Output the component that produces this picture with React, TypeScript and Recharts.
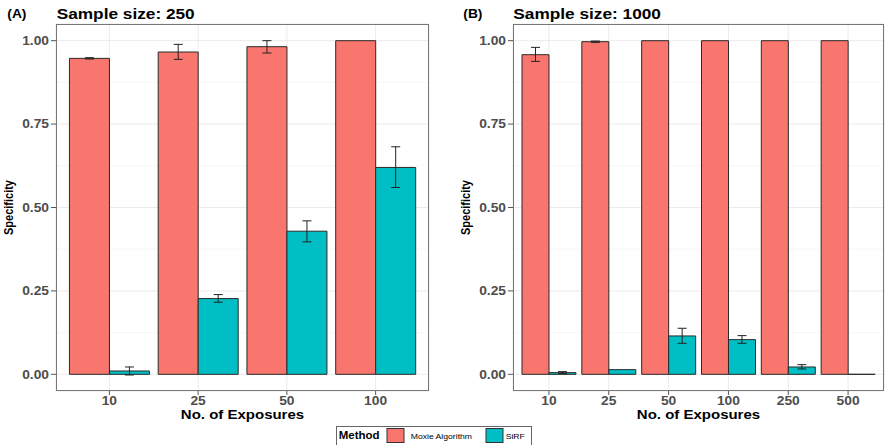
import React from 'react';
import { BarChart, Bar, XAxis, YAxis, CartesianGrid, ErrorBar } from 'recharts';

// ---------- data ----------
const categoriesA = ['10', '25', '50', '100'];
const moxieA = [0.947, 0.966, 0.982, 1.0];
const moxieALow = [0.945, 0.944, 0.963, 1.0];
const moxieAHigh = [0.949, 0.989, 1.0, 1.0];
const sirfA = [0.01, 0.227, 0.429, 0.62];
const sirfALow = [-0.002, 0.216, 0.397, 0.56];
const sirfAHigh = [0.022, 0.239, 0.46, 0.682];

const categoriesB = ['10', '25', '50', '100', '250', '500'];
const moxieB = [0.958, 0.997, 1.0, 1.0, 1.0, 1.0];
const moxieBLow = [0.938, 0.995, 1.0, 1.0, 1.0, 1.0];
const moxieBHigh = [0.98, 0.999, 1.0, 1.0, 1.0, 1.0];
const sirfB = [0.005, 0.014, 0.115, 0.104, 0.022, 0.0];
const sirfBLow = [0.002, 0.014, 0.093, 0.093, 0.016, 0.0];
const sirfBHigh = [0.008, 0.014, 0.138, 0.116, 0.029, 0.0];

const yTicks = [0, 0.25, 0.5, 0.75, 1];
const yMinor = [0.125, 0.375, 0.625, 0.875];

const err = (v: number, lo: number, hi: number) => (lo === hi ? null : [v - lo, hi - v]);

const build = (cats: string[], m: number[], mlo: number[], mhi: number[], s: number[], slo: number[], shi: number[]) =>
  cats.map((c, i) => ({
    cat: c,
    moxie: m[i],
    moxieErr: err(m[i], mlo[i], mhi[i]),
    sirf: s[i],
    sirfErr: err(s[i], slo[i], shi[i]),
  }));

const dataA = build(categoriesA, moxieA, moxieALow, moxieAHigh, sirfA, sirfALow, sirfAHigh);
const dataB = build(categoriesB, moxieB, moxieBLow, moxieBHigh, sirfB, sirfBLow, sirfBHigh);

// ---------- styles ----------
const RED = '#F8766D';
const TEAL = '#00BFC4';
const FONT = '"Liberation Sans", Arial, Helvetica, sans-serif';
const SX = 1.15;
const OUTLINE = '#2a2a2a';

const BarShape = (props: any) => {
  const { x, y, width, height, fill } = props;
  if (x == null || y == null || width == null || height == null) return null;
  return (
    <path
      d={`M${x},${y}h${width}v${height}h${-width}Z`}
      fill={fill}
      stroke={OUTLINE}
      strokeWidth={1}
    />
  );
};

const YTick = (props: any) => {
  const { x, y, payload } = props;
  return (
    <text
      transform={`translate(${x},${y + 4.3}) scale(${SX},1)`}
      textAnchor="end"
      fontFamily={FONT}
      fontWeight="bold"
      fontSize={12}
      fill="#4d4d4d"
    >
      {Number(payload.value).toFixed(2)}
    </text>
  );
};

const XTick = (props: any) => {
  const { x, y, payload } = props;
  return (
    <text
      transform={`translate(${x},${y + 8.5}) scale(${SX},1)`}
      textAnchor="middle"
      fontFamily={FONT}
      fontWeight="bold"
      fontSize={12}
      fill="#4d4d4d"
    >
      {payload.value}
    </text>
  );
};

const Panel = ({ data, width, pad, right }: { data: any[]; width: number; pad: number; right: number }) => (
  <BarChart
    width={width}
    height={445}
    data={data}
    margin={{ top: 24, right, bottom: 0, left: 0 }}
    barCategoryGap="5%"
    barGap={0}
  >
    <CartesianGrid
      horizontalValues={yMinor}
      vertical={false}
      stroke="#f2f2f2"
      strokeWidth={0.6}
    />
    <CartesianGrid stroke="#ebebeb" strokeWidth={1} />
    <XAxis
      dataKey="cat"
      height={54}
      padding={{ left: pad, right: pad }}
      axisLine={false}
      tickSize={4}
      tickMargin={1}
      tickLine={{ stroke: '#555' }}
      tick={<XTick />}
      interval={0}
    />
    <YAxis
      type="number"
      width={56}
      domain={[-0.05, 1.05]}
      allowDataOverflow
      ticks={yTicks}
      axisLine={false}
      tickSize={5}
      tickMargin={2}
      tickLine={{ stroke: '#555' }}
      tick={<YTick />}
    />
    <Bar dataKey="moxie" fill={RED} shape={<BarShape />} isAnimationActive={false}>
      <ErrorBar dataKey="moxieErr" width={4.5} stroke="#222" strokeWidth={1} direction="y" />
    </Bar>
    <Bar dataKey="sirf" fill={TEAL} shape={<BarShape />} isAnimationActive={false}>
      <ErrorBar dataKey="sirfErr" width={4.5} stroke="#222" strokeWidth={1} direction="y" />
    </Bar>
  </BarChart>
);

const T = ({ x, y, size, bold, children, anchor = 'start', fill = '#000', sx = SX }: any) => (
  <text
    transform={`translate(${x},${y}) scale(${sx},1)`}
    fontFamily={FONT}
    fontSize={size}
    fontWeight={bold ? 'bold' : 'normal'}
    textAnchor={anchor}
    fill={fill}
  >
    {children}
  </text>
);

export default function App() {
  return (
    <div style={{ position: 'absolute', left: 0, top: 0, width: 885, height: 445, background: '#fff', overflow: 'hidden' }}>
      <div style={{ position: 'absolute', left: 0, top: 0 }}>
        <Panel data={dataA} width={440} pad={9} right={11} />
      </div>
      <div style={{ position: 'absolute', left: 457, top: 0 }}>
        <Panel data={dataB} width={428} pad={6} right={1} />
      </div>
      <svg
        width={885}
        height={445}
        style={{ position: 'absolute', left: 0, top: 0, pointerEvents: 'none' }}
      >
        {/* panel borders */}
        <rect x={56.5} y={24.5} width={372} height={366} fill="none" stroke="#777" strokeWidth={1} />
        <rect x={513.5} y={24.5} width={370} height={366} fill="none" stroke="#777" strokeWidth={1} />

        {/* titles */}
        <T x={7.3} y={17.5} size={12} bold>(A)</T>
        <T x={56.7} y={18.5} size={15} bold>Sample size: 250</T>
        <T x={463.3} y={17.5} size={12} bold>(B)</T>
        <T x={513.3} y={18.5} size={15} bold>Sample size: 1000</T>

        {/* axis titles */}
        <T x={242.5} y={419.2} size={12.5} sx={1.2} bold anchor="middle">No. of Exposures</T>
        <T x={698.5} y={419.2} size={12.5} sx={1.2} bold anchor="middle">No. of Exposures</T>
        <text
          transform={`translate(13,207.5) scale(${SX},1) rotate(-90)`}
          fontFamily={FONT}
          fontSize={11}
          fontWeight="bold"
          textAnchor="middle"
        >
          Specificity
        </text>
        <text
          transform={`translate(470,207.5) scale(${SX},1) rotate(-90)`}
          fontFamily={FONT}
          fontSize={11}
          fontWeight="bold"
          textAnchor="middle"
        >
          Specificity
        </text>

        {/* legend */}
        <rect x={336.5} y={426.5} width={195} height={25} fill="#fff" stroke="#666" strokeWidth={1} />
        <T x={338.7} y={439.3} size={10} bold>Method</T>
        <rect x={387} y={428.5} width={17} height={14} fill={RED} stroke="#333" strokeWidth={1} />
        <T x={410.7} y={438.5} size={7.5}>Moxie Algorithm</T>
        <rect x={486} y={428.5} width={17} height={14} fill={TEAL} stroke="#333" strokeWidth={1} />
        <T x={505.7} y={438.5} size={7.5}>SiRF</T>
      </svg>
    </div>
  );
}
